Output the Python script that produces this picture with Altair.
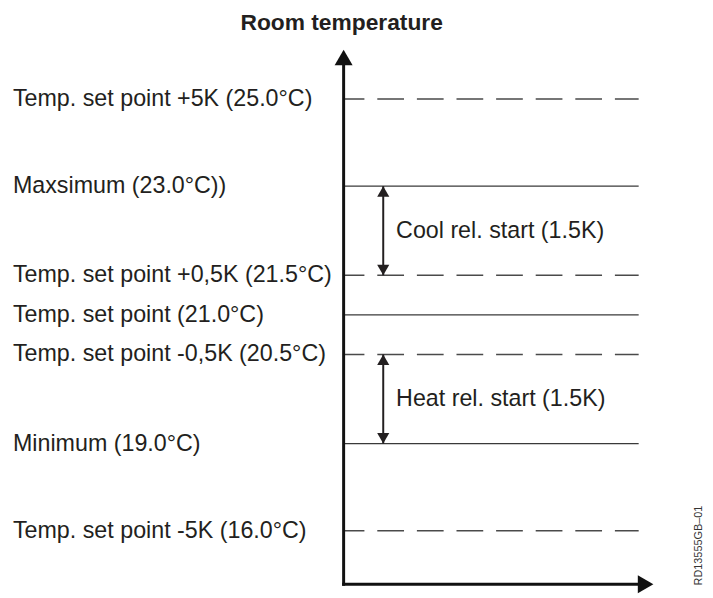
import altair as alt
import pandas as pd

TITLE = "Room temperature"
WATERMARK = "RD13555GB\u201301"

level_temps = [25.0, 23.0, 21.5, 21.0, 20.5, 19.0, 16.0]
level_labels = [
    "Temp. set point +5K (25.0°C)",
    "Maxsimum (23.0°C))",
    "Temp. set point +0,5K (21.5°C)",
    "Temp. set point (21.0°C)",
    "Temp. set point -0,5K (20.5°C)",
    "Minimum (19.0°C)",
    "Temp. set point -5K (16.0°C)",
]
level_dashed = [True, False, True, False, True, False, True]

band_top = [23.0, 20.5]
band_bottom = [21.5, 19.0]
band_labels = ["Cool rel. start (1.5K)", "Heat rel. start (1.5K)"]

# schematic (non-linear) temperature axis: piecewise scale
scale_domain = [16.0, 19.0, 20.5, 21.0, 21.5, 23.0, 25.0]
scale_range = [486, 398, 308, 268, 228, 138, 50]

FONT = "Liberation Sans"
W, H = 313, 540
LINE_END = 298

levels = pd.DataFrame({"temp": level_temps, "label": level_labels, "dashed": level_dashed})
bands = pd.DataFrame({"top": band_top, "bottom": band_bottom, "label": band_labels})

yscale = alt.Scale(domain=scale_domain, range=scale_range, nice=False, zero=False)


def Y(field):
    return alt.Y(field, type="quantitative", scale=yscale, axis=None)


base_levels = alt.Chart(levels)

solid = base_levels.transform_filter("!datum.dashed").mark_rule(
    color="#3a3a3a", strokeWidth=1.4
).encode(x=alt.value(0), x2=alt.value(LINE_END), y=Y("temp"))

dashed = base_levels.transform_filter("datum.dashed").mark_rule(
    color="#4a4a4a", strokeWidth=1.4, strokeDash=[27, 13], strokeDashOffset=6
).encode(x=alt.value(0), x2=alt.value(LINE_END), y=Y("temp"))

labels = base_levels.mark_text(
    align="left", baseline="middle", font=FONT, fontSize=23.5, color="#231f20"
).encode(x=alt.value(-334), y=Y("temp"), text="label:N")

base_bands = alt.Chart(bands)
band_rule = base_bands.mark_rule(color="#231f20", strokeWidth=2).encode(
    x=alt.value(40), y=Y("top"), y2="bottom:Q"
)
band_up = base_bands.mark_point(
    shape="triangle-up", filled=True, size=150, opacity=1, color="#231f20", yOffset=5.3, strokeWidth=0
).encode(x=alt.value(40), y=Y("top"))
band_down = base_bands.mark_point(
    shape="triangle-down", filled=True, size=150, opacity=1, color="#231f20", yOffset=-5.3, strokeWidth=0
).encode(x=alt.value(40), y=Y("bottom"))
band_text = base_bands.transform_calculate(mid="(datum.top + datum.bottom) / 2").mark_text(
    align="left", baseline="middle", font=FONT, fontSize=23.5, color="#231f20"
).encode(x=alt.value(53), y=Y("mid"), text="label:N")

one = alt.Data(values=[{}])
v_axis = alt.Chart(one).mark_rule(color="#111", strokeWidth=3, strokeCap="square").encode(
    x=alt.value(0), y=alt.value(14), y2=alt.value(H)
)
h_axis = alt.Chart(one).mark_rule(color="#111", strokeWidth=3, strokeCap="square").encode(
    x=alt.value(0), x2=alt.value(LINE_END), y=alt.value(H)
)
v_head = alt.Chart(one).mark_point(
    shape="triangle-up", filled=True, size=330, opacity=1, color="#111", strokeWidth=0
).encode(x=alt.value(0), y=alt.value(8))
h_head = alt.Chart(one).mark_point(
    shape="triangle-right", filled=True, size=330, opacity=1, color="#111", strokeWidth=0
).encode(x=alt.value(W - 8), y=alt.value(H))

title = alt.Chart(one).mark_text(
    text=TITLE, font=FONT, fontSize=23, fontWeight="bold", color="#231f20",
    align="center", baseline="middle"
).encode(x=alt.value(-2), y=alt.value(-27))

mark_id = alt.Chart(one).mark_text(
    text=WATERMARK, font=FONT, fontSize=11, color="#333", angle=270,
    align="center", baseline="middle"
).encode(x=alt.value(359), y=alt.value(501))

chart = alt.layer(
    solid, dashed, labels, band_rule, band_up, band_down, band_text,
    v_axis, h_axis, v_head, h_head, title, mark_id
).properties(
    width=W, height=H,
    autosize=alt.AutoSizeParams(type="none"),
    padding={"left": 339, "top": 39, "right": 52, "bottom": 8},
).configure_view(stroke=None)

chart.save("out.html", embed_options={"renderer": "svg", "actions": False})
